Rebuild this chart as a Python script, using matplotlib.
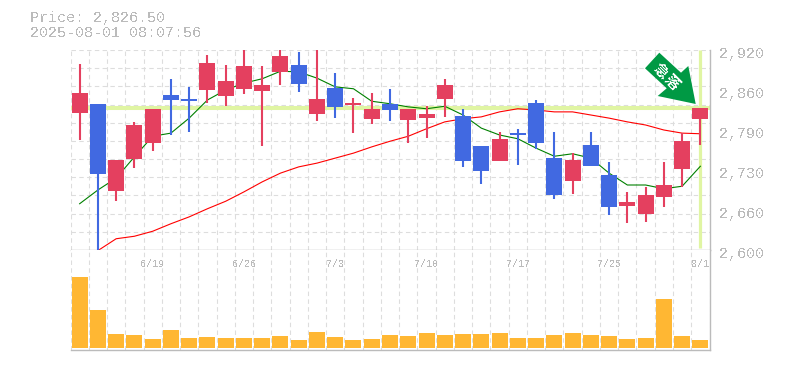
import matplotlib
matplotlib.use("Agg")
import matplotlib.pyplot as plt
from matplotlib.patches import Polygon
from matplotlib.transforms import blended_transform_factory, IdentityTransform

plt.rcParams["text.antialiased"] = False

W, H = 785, 370

opens = [2819, 2834, 2694, 2746, 2771, 2848, 2842, 2856, 2846, 2858, 2854, 2885, 2896, 2818, 2859, 2832, 2810, 2834,
         2808, 2811, 2842, 2814, 2766, 2742, 2787, 2835, 2747, 2710, 2768, 2720, 2670, 2658, 2685, 2730, 2810]
highs = [2898, 2834, 2744, 2805, 2826, 2874, 2861, 2912, 2896, 2925, 2894, 2925, 2917, 2925, 2883, 2843, 2851, 2858,
         2826, 2830, 2874, 2826, 2766, 2789, 2794, 2840, 2789, 2755, 2789, 2741, 2693, 2701, 2741, 2787, 2827]
lows = [2776, 2600, 2678, 2731, 2758, 2784, 2789, 2835, 2830, 2850, 2766, 2864, 2853, 2806, 2811, 2787, 2802, 2806,
        2771, 2779, 2813, 2733, 2706, 2742, 2736, 2762, 2682, 2690, 2734, 2656, 2643, 2645, 2669, 2701, 2768]
closes = [2851, 2722, 2744, 2800, 2826, 2840, 2838, 2899, 2870, 2894, 2864, 2910, 2866, 2842, 2829, 2835, 2826, 2824,
          2826, 2818, 2864, 2742, 2726, 2778, 2784, 2771, 2688, 2744, 2734, 2669, 2677, 2688, 2704, 2774, 2827]
ma_short = [2674, 2696, 2715, 2749, 2782, 2787, 2811, 2840, 2856, 2867, 2874, 2886, 2885, 2875, 2861, 2858, 2838, 2834,
            2829, 2826, 2830, 2816, 2795, 2784, 2778, 2763, 2750, 2754, 2747, 2723, 2704, 2704, 2698, 2702, 2734]
ma_long = [2599, 2618, 2622, 2630, 2642, 2653, 2666, 2678, 2693, 2709, 2723, 2733, 2739, 2747, 2755, 2765, 2774,
           2782, 2794, 2805, 2810, 2813, 2821, 2826, 2824, 2821, 2821, 2816, 2811, 2805, 2800, 2792, 2787, 2786]
volumes = [71, 38, 14, 13, 9, 18, 10, 11, 10, 10, 10, 12, 8, 16, 11, 8, 9, 13,
           12, 15, 13, 14, 14, 15, 10, 10, 13, 15, 13, 12, 9, 10, 49, 12, 8]

price_ticks = [2600, 2664, 2728, 2792, 2856, 2920]
price_labels = ["2,600", "2,660", "2,730", "2,790", "2,860", "2,920"]
date_ticks = [4, 9, 14, 19, 24, 29, 34]
date_labels = ["6/19", "6/26", "7/3", "7/10", "7/17", "7/25", "8/1"]
last_price = 2826.5
price_text = "Price: 2,826.50"
time_text = "2025-08-01 08:07:56"

RED = "#e4405f"
BLUE = "#4169e1"
GREY = "#bbbbbb"
HILITE = "#e0f5a3"
MONO = "Liberation Mono"
CJK = ["Noto Sans CJK JP", "DejaVu Sans"]


def axes_box(left, top, right, bottom):
    return [left / W, 1 - bottom / H, (right - left) / W, (bottom - top) / H]


def setup_grid(ax):
    ax.set_xlim(-0.5, 34.5)
    ax.set_xticks([i - 0.5 for i in range(36)])
    ax.tick_params(length=0, labelbottom=False, labelleft=False)
    ax.grid(True, color="#dddddd", linewidth=0.8, linestyle=(0, (4, 3)))
    ax.set_axisbelow(True)
    for side in ["top", "left"]:
        ax.spines[side].set_visible(False)
    for side in ["right", "bottom"]:
        ax.spines[side].set_color(GREY)
        ax.spines[side].set_linewidth(1.0)


fig = plt.figure(figsize=(W / 100, H / 100), dpi=100)
ax = fig.add_axes(axes_box(70.5, 50, 709.5, 250))
ax_vol = fig.add_axes(axes_box(70.5, 250, 709.5, 350))

setup_grid(ax)
ax.set_ylim(2600, 2920)
ax.set_yticks([2600 + i * 320 / 11 for i in range(12)])

setup_grid(ax_vol)
ax_vol.set_ylim(-2, 98)
ax_vol.set_yticks([])

# last price cross
ax.axhline(last_price, color=HILITE, linewidth=2.9, zorder=1.5)
ax.plot([34, 34], [2603, 2920], color=HILITE, linewidth=2.3, zorder=1.5, solid_capstyle="butt")

days = list(range(len(opens)))

# moving averages sit under the candles
ax.plot(days, ma_short, color="green", linewidth=0.8, zorder=2)
ax.plot(days[1:], ma_long, color="red", linewidth=0.8, zorder=2)

colors = [RED if c >= o else BLUE for o, c in zip(opens, closes)]
ax.vlines(days, lows, highs, colors=colors, linewidth=1.5, zorder=3)
ax.bar(days, [abs(c - o) for o, c in zip(opens, closes)], bottom=[min(o, c) for o, c in zip(opens, closes)],
       width=0.876, color=colors, linewidth=0, zorder=3.5)

ax_vol.bar(days, volumes, width=0.876, color="#ffb733", linewidth=0, zorder=2)

# labels
yaxis_trans = blended_transform_factory(ax.transAxes, ax.transData)
for tick, label in zip(price_ticks, price_labels):
    ax.annotate(label, xy=(1, tick), xycoords=yaxis_trans, xytext=(10, -4), textcoords="offset pixels",
                family=MONO, fontsize=10.8, color=GREY, va="center", ha="left", annotation_clip=False)

xaxis_trans = ax_vol.get_xaxis_transform()
for day, label in zip(date_ticks, date_labels):
    ax_vol.text(day, 0.86, label, transform=xaxis_trans, family=MONO, fontsize=7.2, color=GREY,
                ha="center", va="center")

fig.text(30 / W, 1 - 18 / H, price_text, family=MONO, fontsize=10.8, color=GREY, va="center")
fig.text(30 / W, 1 - 33 / H, time_text, family=MONO, fontsize=10.8, color=GREY, va="center")

# signal arrow, pixel coordinates from the top left
arrow_px = [(695.7, 104), (657.7, 96), (666.7, 88.3), (645, 68.3), (659.3, 52.7), (681, 72.7), (688.3, 66)]
arrow_pts = [(x, H - y) for x, y in arrow_px]
fig.add_artist(Polygon(arrow_pts, closed=True, facecolor="#009944", edgecolor="none",
                       transform=IdentityTransform(), zorder=5))
fig.text(661 / W, 1 - 71 / H, "急", family=CJK, fontsize=10.5, color="white",
         weight="bold", rotation=-45, rotation_mode="anchor", ha="center", va="center", zorder=6)
fig.text(672 / W, 1 - 82 / H, "落", family=CJK, fontsize=10.5, color="white",
         weight="bold", rotation=-45, rotation_mode="anchor", ha="center", va="center", zorder=6)

fig.savefig("out.png", dpi=100)
